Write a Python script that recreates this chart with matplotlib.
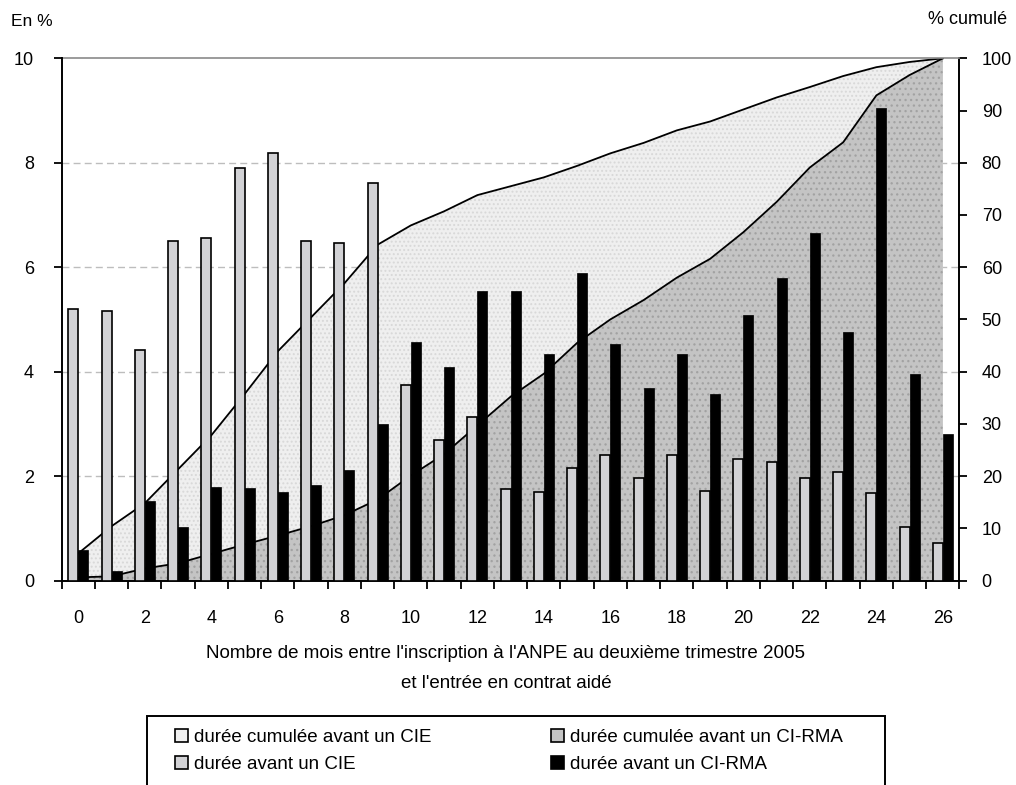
import numpy as np
import matplotlib
matplotlib.use('Agg')
import matplotlib.pyplot as plt
from matplotlib.patches import Patch, Rectangle

plt.rcParams['font.family'] = ['Liberation Sans', 'DejaVu Sans']
plt.rcParams['hatch.linewidth'] = 0.9

# months between ANPE registration and entry into the subsidised contract
months = list(range(27))

# share of entries per month (left axis, %)
cie = [5.2, 5.16, 4.42, 6.5, 6.55, 7.9, 8.19, 6.5, 6.46, 7.62, 3.75, 2.7, 3.14,
       1.75, 1.7, 2.15, 2.4, 1.97, 2.4, 1.72, 2.33, 2.26, 1.97, 2.07, 1.68, 1.02, 0.72]
rma = [0.59, 0.19, 1.53, 1.02, 1.79, 1.77, 1.7, 1.83, 2.11, 2.99, 4.57, 4.08, 5.54,
       5.54, 4.34, 5.88, 4.53, 3.69, 4.34, 3.58, 5.08, 5.8, 6.65, 4.75, 9.05, 3.95, 2.8]

# cumulated shares (right axis, %)
cum_cie = [5.2, 10.4, 14.8, 21.3, 27.8, 35.7, 43.9, 50.4, 56.9, 64.3, 68.0, 70.7, 73.8,
           75.5, 77.2, 79.4, 81.8, 83.8, 86.2, 87.9, 90.2, 92.5, 94.5, 96.6, 98.3, 99.3, 100.0]
cum_rma = [0.6, 0.8, 2.3, 3.3, 5.1, 6.9, 8.6, 10.4, 12.5, 15.5, 20.1, 24.2, 29.7,
           35.2, 39.6, 45.5, 50.0, 53.7, 58.0, 61.6, 66.7, 72.5, 79.1, 83.9, 92.9, 96.8, 100.0]

lab_cum_cie = "durée cumulée avant un CIE"
lab_cum_rma = "durée cumulée avant un CI-RMA"
lab_cie = "durée avant un CIE"
lab_rma = "durée avant un CI-RMA"

light_fill = '#efefef'
light_dots = '#d8d8d8'
dark_fill = '#c4c4c4'
dark_dots = '#a2a2a2'
bar_gray = '#d2d2d5'

W, H = 1016, 785
fig = plt.figure(figsize=(W / 100, H / 100), dpi=100)
left, right, top, bottom = 61.7, 959.5, 58.3, 580.5
ax = fig.add_axes([left / W, 1 - bottom / H, (right - left) / W, (bottom - top) / H])
ax2 = ax.twinx()
ax.set_zorder(2)
ax2.set_zorder(1)
ax.patch.set_visible(False)

x = np.array(months)

# cumulated areas on the secondary axis
ax2.fill_between(x, 0, cum_cie, facecolor=light_fill, edgecolor=light_dots,
                 hatch='....', linewidth=0, zorder=2)
ax2.fill_between(x, 0, cum_rma, facecolor=dark_fill, edgecolor=dark_dots,
                 hatch='...', linewidth=0, zorder=3)
ax2.plot(x, cum_cie, color='black', lw=1.3, zorder=4)
ax2.plot(x, cum_rma, color='black', lw=1.3, zorder=4)
for g in [20, 40, 60, 80]:
    ax2.axhline(g, color='#bdbdbd', lw=1, ls=(0, (5, 3)), zorder=1)
ax2.axhline(100, color='#8a8a8a', lw=1.2, zorder=5, clip_on=False)

# monthly bars on the primary axis
w = 0.3
ax.bar(x - w / 2, cie, width=w, color=bar_gray, edgecolor='black', linewidth=1.2, zorder=3)
ax.bar(x + w / 2, rma, width=w, color='black', edgecolor='black', linewidth=0.5, zorder=3)

ax.set_xlim(-0.5, 26.5)
ax.set_ylim(0, 10)
ax2.set_ylim(0, 100)

ax.set_yticks(range(0, 11, 2))
ax2.set_yticks(range(0, 101, 10))
ax.set_xticks(range(0, 27, 2))
ax.set_xticks(np.arange(-0.5, 27, 1), minor=True)

ax.tick_params(axis='y', direction='out', length=6, width=1.3, pad=14, labelsize=13)
ax2.tick_params(axis='y', direction='out', length=6, width=1.3, pad=10, labelsize=13)
ax.tick_params(axis='x', which='major', length=0, pad=21, labelsize=13)
ax.tick_params(axis='x', which='minor', length=6, width=1.3)

for a in (ax, ax2):
    a.spines['top'].set_visible(False)
    for s in ('left', 'right', 'bottom'):
        a.spines[s].set_linewidth(1.4)
ax.spines['right'].set_visible(False)
ax2.spines['left'].set_visible(False)
ax2.spines['bottom'].set_visible(False)

fig.text(11 / W, 1 - 21 / H, "En %", fontsize=12.5, va='center', ha='left')
fig.text(1007 / W, 1 - 20 / H, "% cumulé", fontsize=13, va='center', ha='right')

xc = 506 / W
fig.text(xc, 1 - 653 / H, "Nombre de mois entre l'inscription à l'ANPE au deuxième trimestre 2005",
         fontsize=13.5, ha='center', va='center')
fig.text(xc, 1 - 684 / H, "et l'entrée en contrat aidé", fontsize=13.5, ha='center', va='center')

handles = [
    Patch(facecolor=light_fill, edgecolor='black', linewidth=1.2),
    Patch(facecolor=bar_gray, edgecolor='black', linewidth=1.2),
    Patch(facecolor=dark_fill, edgecolor='black', linewidth=1.2),
    Patch(facecolor='black', edgecolor='black', linewidth=1.2),
]
labels = [lab_cum_cie, lab_cie, lab_cum_rma, lab_rma]
fig.legend(handles, labels, ncol=2, loc='upper left',
           bbox_to_anchor=(175 / W, 1 - 729 / H), frameon=False, fontsize=13.5,
           borderpad=0, borderaxespad=0, handlelength=0.7, handleheight=0.7,
           handletextpad=0.3, labelspacing=0.5, columnspacing=6.4)
fig.add_artist(Rectangle((147 / W, -0.05), (885 - 147) / W, 0.05 + 1 - 716 / H,
                         transform=fig.transFigure, fill=False, edgecolor='black', lw=1.4))

fig.savefig('out.png', dpi=100, facecolor='white')
